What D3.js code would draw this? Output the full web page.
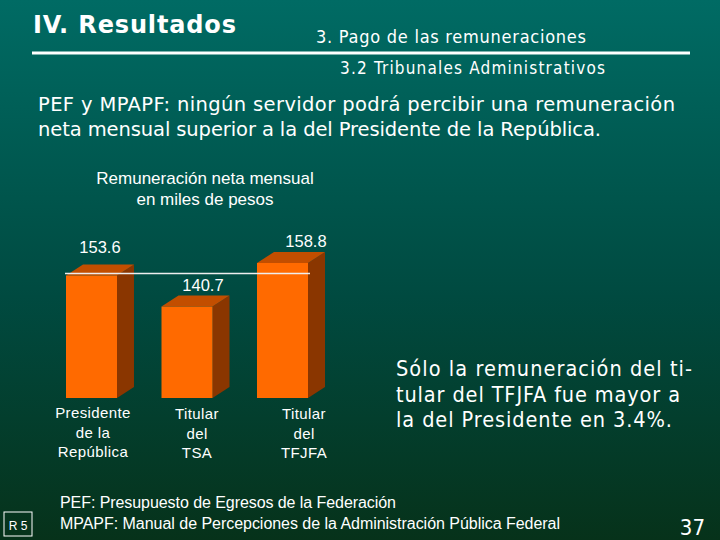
<!DOCTYPE html>
<html><head><meta charset="utf-8">
<script src="https://cdn.jsdelivr.net/npm/d3@7"></script>
<style>body{margin:0;overflow:hidden}</style></head>
<body><svg id="c" width="720" height="540"></svg>
<script>
const categories = [["Presidente","de la","República"],["Titular","del","TSA"],["Titular","del","TFJFA"]];
const values = [153.6, 140.7, 158.8];
const valueLabels = ["153.6","140.7","158.8"];

const svg = d3.select("#c");
const defs = svg.append("defs");
const g = defs.append("linearGradient").attr("id","bg").attr("x1",0).attr("y1",0).attr("x2",0).attr("y2",1);
g.append("stop").attr("offset","0%").attr("stop-color","#006B64");
g.append("stop").attr("offset","55%").attr("stop-color","#004A40");
g.append("stop").attr("offset","100%").attr("stop-color","#06321A");
svg.append("rect").attr("width",720).attr("height",540).attr("fill","url(#bg)");

const W = "#fff";
svg.append("text").attr("x",33).attr("y",33).attr("fill",W).attr("font-family","DejaVu Sans").attr("font-weight","bold").attr("font-size",24).attr("textLength",203).text("IV. Resultados");
svg.append("text").attr("x",316).attr("y",43).attr("fill",W).attr("font-family","DejaVu Sans Condensed, DejaVu Sans").attr("font-size",18).attr("textLength",270).text("3. Pago de las remuneraciones");
svg.append("line").attr("x1",32).attr("x2",690).attr("y1",53).attr("y2",53).attr("stroke",W).attr("stroke-width",3);
svg.append("text").attr("x",340).attr("y",74).attr("fill",W).attr("font-family","DejaVu Sans Condensed, DejaVu Sans").attr("font-size",17).attr("textLength",265).text("3.2 Tribunales Administrativos");
svg.append("text").attr("x",38).attr("y",111).attr("fill",W).attr("font-family","DejaVu Sans").attr("font-size",19.5).attr("textLength",637).text("PEF y MPAPF: ningún servidor podrá percibir una remuneración");
svg.append("text").attr("x",38).attr("y",136).attr("fill",W).attr("font-family","DejaVu Sans").attr("font-size",19.5).attr("textLength",563).text("neta mensual superior a la del Presidente de la República.");
svg.append("text").attr("x",205).attr("y",184).attr("text-anchor","middle").attr("fill",W).attr("font-family","Liberation Sans").attr("font-size",17).text("Remuneración neta mensual");
svg.append("text").attr("x",205).attr("y",205).attr("text-anchor","middle").attr("fill",W).attr("font-family","Liberation Sans").attr("font-size",17).text("en miles de pesos");

const x = d3.scaleBand().domain(d3.range(values.length)).range([66,308]).paddingInner(0.466).paddingOuter(0);
const y = d3.scaleLinear().domain([102.7,158.8]).range([398,263]);
const dx = 17, dy = 11;
const lblPos = [[100,253],[203,291],[306,247]];
const catX = [93,197,304];
const bars = svg.append("g").selectAll("g").data(values).join("g");
bars.each(function(v,i){
  const s = d3.select(this), x0 = x(i), w = x.bandwidth(), t = y(v), b = y.range()[0];
  s.append("path").attr("d",`M${x0+w},${t}L${x0+w+dx},${t-dy}L${x0+w+dx},${b-dy}L${x0+w},${b}Z`).attr("fill","#8A3600");
  s.append("path").attr("d",`M${x0},${t}L${x0+dx},${t-dy}L${x0+w+dx},${t-dy}L${x0+w},${t}Z`).attr("fill","#C24E00");
  s.append("rect").attr("x",x0).attr("y",t).attr("width",w).attr("height",b-t).attr("fill","#FF6A00");
  s.append("text").attr("x",lblPos[i][0]).attr("y",lblPos[i][1]).attr("text-anchor","middle").attr("fill",W).attr("font-family","Liberation Sans").attr("font-size",16.5).text(valueLabels[i]);
  categories[i].forEach((l,k)=>s.append("text").attr("x",catX[i]).attr("y",(i===0?418:419)+k*19.5).attr("text-anchor","middle").attr("fill",W).attr("font-family","Liberation Sans").attr("font-size",15).attr("letter-spacing",0.4).text(l));
});
svg.append("line").attr("x1",65).attr("x2",310).attr("y1",y(values[0])-2).attr("y2",y(values[0])-2).attr("stroke","#eee").attr("stroke-width",1.5);

const note = ["Sólo la remuneración del ti-","tular del TFJFA fue mayor a","la del Presidente en 3.4%."];
const noteLen = [296,284,276];
note.forEach((l,k)=>
  svg.append("text").attr("x",396).attr("y",376+k*25.5).attr("fill",W).attr("font-family","DejaVu Sans Condensed, DejaVu Sans").attr("font-size",21.5).attr("textLength",noteLen[k]).text(l));

svg.append("rect").attr("x",4).attr("y",512).attr("width",28).attr("height",24).attr("fill","none").attr("stroke",W);
svg.append("text").attr("x",18).attr("y",530).attr("text-anchor","middle").attr("fill",W).attr("font-family","Liberation Sans").attr("font-size",12).text("R 5");
svg.append("text").attr("x",60).attr("y",508).attr("fill",W).attr("font-family","Liberation Sans").attr("font-size",16).attr("textLength",336).text("PEF: Presupuesto de Egresos de la Federación");
svg.append("text").attr("x",60).attr("y",529).attr("fill",W).attr("font-family","Liberation Sans").attr("font-size",16).attr("textLength",500).text("MPAPF: Manual de Percepciones de la Administración Pública Federal");
svg.append("text").attr("x",705).attr("y",535).attr("text-anchor","end").attr("fill",W).attr("font-family","DejaVu Sans Condensed, DejaVu Sans").attr("font-size",22).text("37");
</script></body></html>
